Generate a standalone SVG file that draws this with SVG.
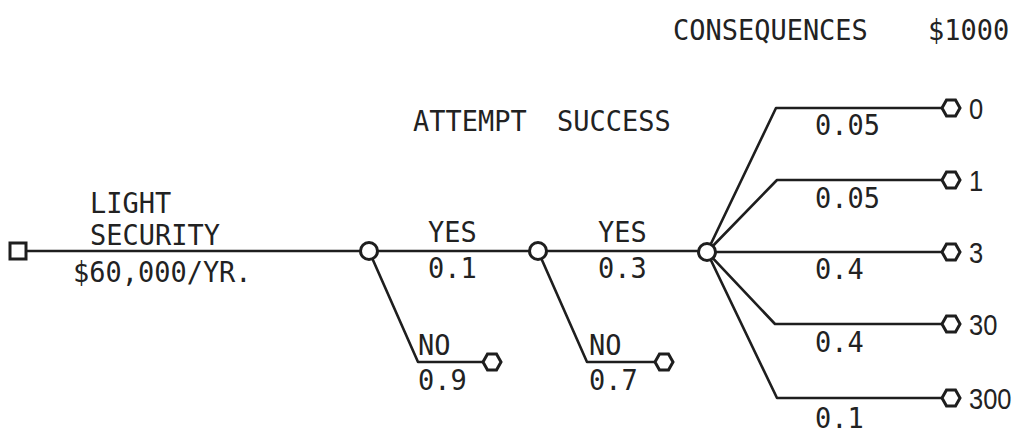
<svg xmlns="http://www.w3.org/2000/svg" width="1020" height="434" viewBox="0 0 1020 434">
<style>
.ln{fill:none;stroke:#1e1e1e;stroke-width:2.6;stroke-linejoin:round}
.nd{fill:#fff;stroke:#1e1e1e;stroke-width:3}
.t{font-family:"DejaVu Sans Mono","Liberation Mono",monospace;font-size:29px;fill:#222}
.d{font-family:"Liberation Sans",Arial,sans-serif;font-size:29px;fill:#222}
</style>
<defs>
<polygon id="hex" points="-9,0 -4.5,-8 4.5,-8 9,0 4.5,8 -4.5,8"/>
</defs>
<rect width="1020" height="434" fill="#fff"/>
<g id="headers">
<text class="t" transform="translate(673,40) scale(0.93,1)">CONSEQUENCES</text>
<text class="t" transform="translate(928,40) scale(0.93,1)">$1000</text>
<text class="t" transform="translate(413,131) scale(0.93,1)">ATTEMPT</text>
<text class="t" transform="translate(557,131) scale(0.93,1)">SUCCESS</text>
</g>
<g id="connectors">
<path class="ln" d="M26,251 H707"/>
<path class="ln" d="M369,251 L418,362 H484"/>
<path class="ln" d="M538,251 L587,362 H656"/>
<path class="ln" d="M707,252 L776,108 H943"/>
<path class="ln" d="M707,252 L777,180 H943"/>
<path class="ln" d="M707,252 H943"/>
<path class="ln" d="M707,252 L775,324 H943"/>
<path class="ln" d="M707,252 L777,398 H943"/>
</g>
<g id="decision">
<rect class="nd" x="10" y="243" width="16" height="16"/>
<text class="t" transform="translate(90,213) scale(0.93,1)">LIGHT</text>
<text class="t" transform="translate(90,245) scale(0.93,1)">SECURITY</text>
<text class="t" transform="translate(73,282) scale(0.93,1)">$60,000/YR.</text>
</g>
<g id="attempt">
<circle class="nd" cx="369" cy="251" r="8.5"/>
<text class="t" transform="translate(428,242) scale(0.93,1)">YES</text>
<text class="t" transform="translate(428,278) scale(0.93,1)">0.1</text>
<text class="t" transform="translate(418,355) scale(0.93,1)">NO</text>
<text class="t" transform="translate(418,390) scale(0.93,1)">0.9</text>
</g>
<g id="success">
<circle class="nd" cx="538" cy="251" r="8.5"/>
<text class="t" transform="translate(598,242) scale(0.93,1)">YES</text>
<text class="t" transform="translate(598,278) scale(0.93,1)">0.3</text>
<text class="t" transform="translate(589,355) scale(0.93,1)">NO</text>
<text class="t" transform="translate(589,390) scale(0.93,1)">0.7</text>
</g>
<g id="consequence">
<circle class="nd" cx="707" cy="252" r="8.5"/>
<text class="t" transform="translate(815,135) scale(0.93,1)">0.05</text>
<text class="t" transform="translate(815,208) scale(0.93,1)">0.05</text>
<text class="t" transform="translate(815,279) scale(0.93,1)">0.4</text>
<text class="t" transform="translate(815,352) scale(0.93,1)">0.4</text>
<text class="t" transform="translate(815,428) scale(0.93,1)">0.1</text>
</g>
<g id="end-no1"><use href="#hex" class="nd" x="492" y="362"/></g>
<g id="end-no2"><use href="#hex" class="nd" x="664" y="362"/></g>
<g id="end-0"><use href="#hex" class="nd" x="951" y="108"/><text class="d" transform="translate(969,119) scale(0.88,1)">0</text></g>
<g id="end-1"><use href="#hex" class="nd" x="951" y="180"/><text class="d" transform="translate(969,191) scale(0.88,1)">1</text></g>
<g id="end-3"><use href="#hex" class="nd" x="951" y="252"/><text class="d" transform="translate(969,263) scale(0.88,1)">3</text></g>
<g id="end-30"><use href="#hex" class="nd" x="951" y="324"/><text class="d" transform="translate(969,335) scale(0.88,1)">30</text></g>
<g id="end-300"><use href="#hex" class="nd" x="951" y="398"/><text class="d" transform="translate(969,409) scale(0.88,1)">300</text></g>
</svg>
